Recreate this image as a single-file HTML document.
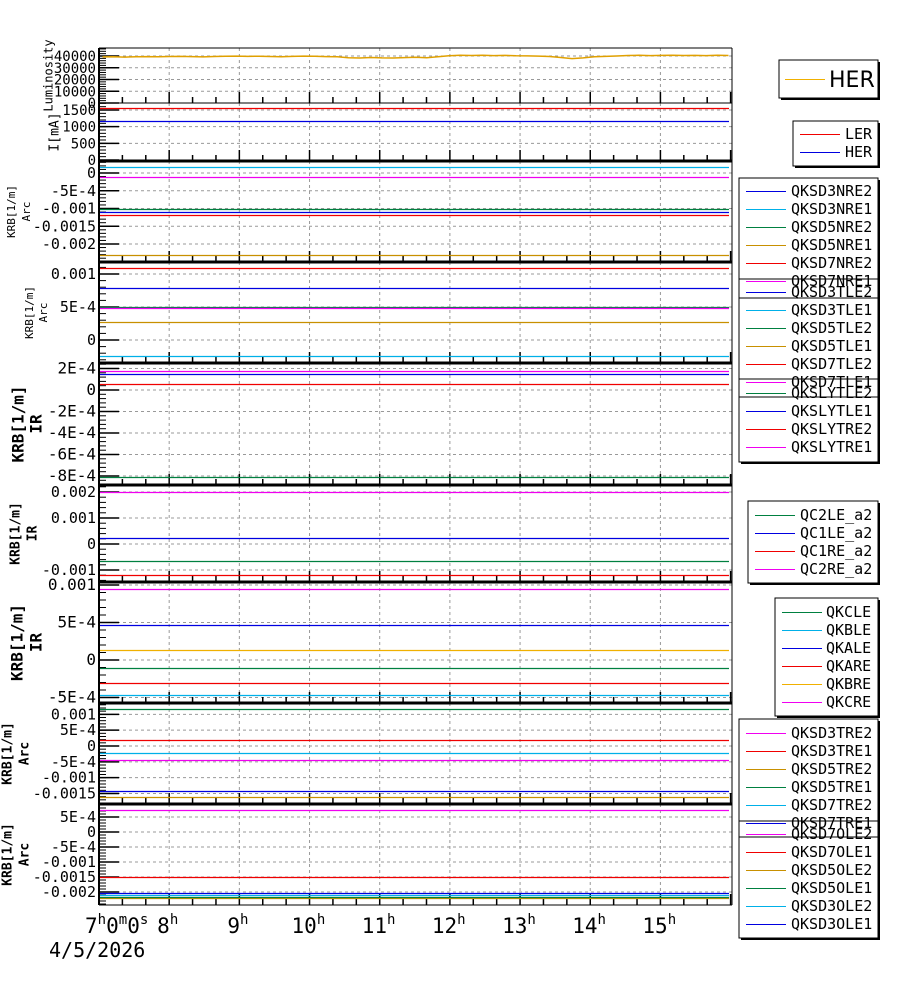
<!DOCTYPE html>
<html><head><meta charset="utf-8"><style>
body{margin:0;background:#fff;width:900px;height:984px;overflow:hidden}
svg{display:block;font-family:"DejaVu Sans Mono","Liberation Mono",monospace}
</style></head><body>
<svg id="c" width="900" height="984"></svg>
<script>
const hours=[8,9,10,11,12,13,14,15];
const lumiValues=[39200,39400,39100,39300,39500,39400,39600,39700,39500,39200,39600,39800,39900,39700,39800,39600,39300,39700,39900,39800,39500,39300,38500,38300,38700,38400,38300,38600,38900,38500,39400,40200,40600,40400,40700,40300,40500,40200,40100,39900,39600,38700,37800,38400,39300,39700,40000,40400,40600,40300,40500,40700,40400,40500,40300,40600,40400];
const ringNames=['LER','HER'];const ringValues=[1560,1180];
const p3Names=['QKSD3NRE2','QKSD3NRE1','QKSD5NRE2','QKSD5NRE1','QKSD7NRE2','QKSD7NRE1'];
const p3Values=[-0.00111,0.00017,-0.001,-0.00231,-0.00118,-0.00011];
const p4Names=['QKSD3TLE2','QKSD3TLE1','QKSD5TLE2','QKSD5TLE1','QKSD7TLE2','QKSD7TLE1'];
const p4Values=[0.00079,-0.00024,0.0005,0.00027,0.00109,0.00049];
const p5Names=['QKSLYTLE2','QKSLYTLE1','QKSLYTRE2','QKSLYTRE1'];
const p5Values=[-0.00081,0.00015,0.00006,0.00018];
const p6Names=['QC2LE_a2','QC1LE_a2','QC1RE_a2','QC2RE_a2'];
const p6Values=[-0.00066,0.00025,-0.0012,0.002];
const p7Names=['QKCLE','QKBLE','QKALE','QKARE','QKBRE','QKCRE'];
const p7Values=[-0.00011,-0.00047,0.00047,-0.00031,0.00013,0.00095];
const p8Names=['QKSD3TRE2','QKSD3TRE1','QKSD5TRE2','QKSD5TRE1','QKSD7TRE2','QKSD7TRE1'];
const p8Values=[-0.00043,0.00019,-0.0016,0.00117,-0.00022,-0.00142];
const p9Names=['QKSD7OLE2','QKSD7OLE1','QKSD5OLE2','QKSD5OLE1','QKSD3OLE2','QKSD3OLE1'];
const p9Values=[0.00073,-0.0015,-0.0022,-0.00217,-0.0021,-0.00202];

const B='#0000e0',C='#00b0e8',G='#008040',O='#c89000',R='#f00000',M='#f000f0',Y='#f0b000';
const svg=document.getElementById('c');const NS='http://www.w3.org/2000/svg';
function el(t,a,p){const e=document.createElementNS(NS,t);for(const k in a)e.setAttribute(k,a[k]);(p||svg).appendChild(e);return e;}
const X0=99,X1=732,T0=7,T1=16.02;
function xs(h){return X0+(h-T0)/(T1-T0)*(X1-X0);}
const panels=[
{top:48,bot:103,v1:0,y1:103,v2:40000,y2:56,ticks:[0,10000,20000,30000,40000],labels:['0','10000','20000','30000','40000'],fs:14,title:['Luminosity'],tx:[49],tfs:12,bold:false},
{top:103,bot:161,v1:0,y1:160,v2:1500,y2:110,ticks:[0,500,1000,1500],labels:['0','500','1000','1500'],fs:14,title:['I[mA]'],tx:[55],tfs:13,bold:false,names:ringNames,vals:ringValues,cols:[R,B]},
{top:161,bot:262,v1:0,y1:173,v2:-0.002,y2:244,ticks:[0,-5e-4,-0.001,-0.0015,-0.002],labels:['0','-5E-4','-0.001','-0.0015','-0.002'],fs:15,title:['KRB[1/m]','Arc'],tx:[12,27],tfs:11,bold:false,names:p3Names,vals:p3Values,cols:[B,C,G,O,R,M]},
{top:262,bot:363,v1:0,y1:340,v2:0.001,y2:274,ticks:[0,5e-4,0.001],labels:['0','5E-4','0.001'],fs:15,title:['KRB[1/m]','Arc'],tx:[30,44],tfs:11,bold:false,names:p4Names,vals:p4Values,cols:[B,C,G,O,R,M]},
{top:363,bot:485,v1:0,y1:390,v2:-8e-4,y2:476,ticks:[2e-4,0,-2e-4,-4e-4,-6e-4,-8e-4],labels:['2E-4','0','-2E-4','-4E-4','-6E-4','-8E-4'],fs:16,title:['KRB[1/m]','IR'],tx:[19,37],tfs:16,bold:true,names:p5Names,vals:p5Values,cols:[G,B,R,M]},
{top:485,bot:582,v1:0,y1:544,v2:0.002,y2:492,ticks:[0.002,0.001,0,-0.001],labels:['0.002','0.001','0','-0.001'],fs:15,title:['KRB[1/m]','IR'],tx:[16,33],tfs:13,bold:true,names:p6Names,vals:p6Values,cols:[G,B,R,M]},
{top:582,bot:703,v1:0,y1:660,v2:0.001,y2:585,ticks:[0.001,5e-4,0,-5e-4],labels:['0.001','5E-4','0','-5E-4'],fs:16,title:['KRB[1/m]','IR'],tx:[18,37],tfs:16,bold:true,names:p7Names,vals:p7Values,cols:[G,C,B,R,Y,M]},
{top:703,bot:804,v1:0,y1:746,v2:-0.0015,y2:793.5,ticks:[0.001,5e-4,0,-5e-4,-0.001,-0.0015],labels:['0.001','5E-4','0','-5E-4','-0.001','-0.0015'],fs:15,title:['KRB[1/m]','Arc'],tx:[8,25],tfs:13,bold:true,names:p8Names,vals:p8Values,cols:[M,R,O,G,C,B]},
{top:804,bot:905,v1:0,y1:832,v2:-0.002,y2:892,ticks:[5e-4,0,-5e-4,-0.001,-0.0015,-0.002],labels:['5E-4','0','-5E-4','-0.001','-0.0015','-0.002'],fs:15,title:['KRB[1/m]','Arc'],tx:[8,25],tfs:13,bold:true,names:p9Names,vals:p9Values,cols:[M,R,O,G,C,B]}
];
panels.forEach((p,i)=>{
  const ys=v=>p.y1+(v-p.v1)*(p.y2-p.y1)/(p.v2-p.v1);
  const g=el('g',{});
  
  
  const cid='clip'+i;const cp=el('clipPath',{id:cid},g);el('rect',{x:X0,y:p.top,width:X1-X0,height:p.bot-p.top},cp);
  hours.forEach(h=>{el('line',{x1:xs(h),x2:xs(h),y1:p.top,y2:p.bot,stroke:'#999','stroke-dasharray':'3,3','stroke-width':1},g);});
  p.ticks.forEach((t,j)=>{const y=ys(t);
    el('line',{x1:X0,x2:X1,y1:y,y2:y,stroke:'#999','stroke-dasharray':'3,3','stroke-width':1},g);
    el('line',{x1:X0,x2:X0+20,y1:y,y2:y,stroke:'#000','stroke-width':1.5},g);
    const tx=el('text',{x:96,y:y+5,'text-anchor':'end','font-size':p.fs,fill:'#000'},g);tx.textContent=p.labels[j];
    
    
  });
  const st=Math.abs(p.ticks[1]-p.ticks[0])/5;
  for(let k=-200;k<=200;k++){const y=ys(k*st);if(y>p.top&&y<p.bot)el('line',{x1:X0,x2:X0+7,y1:y,y2:y,stroke:'#000','stroke-width':1},g);}
  for(let m=0;m<=27;m++){const h=T0+m/3;if(h>T1)break;const x=xs(h);const maj=m%3==0;
    el('line',{x1:x,x2:x,y1:p.bot,y2:p.bot-(maj?11:6),stroke:'#000','stroke-width':1.5},g);}
  if(i==0){let d='';const n=lumiValues.length;lumiValues.forEach((v,k)=>{const x=xs(T0+0.05+k*(T1-T0-0.1)/(n-1));d+=(k?'L':'M')+x.toFixed(1)+','+ys(v).toFixed(1);});
    const pl=el('path',{d:d,fill:'none',stroke:'#e0a000','stroke-width':1.5,'clip-path':'url(#'+cid+')'},g);
    
    
  } else {
    p.vals.forEach((v,k)=>{const y=Math.round(ys(v))+0.5;const ln=el('line',{x1:X0,x2:X1-3,y1:y,y2:y,stroke:p.cols[k],'stroke-width':1.2,'clip-path':'url(#'+cid+')'},g);
      
      });
  }
  el('line',{x1:X0,x2:X0,y1:p.top,y2:p.bot,stroke:'#000','stroke-width':2},g);
  el('line',{x1:X1,x2:X1,y1:p.top,y2:p.bot,stroke:'#000','stroke-width':1},g);
  if(i>0)el('line',{x1:X0,x2:X1,y1:p.top,y2:p.top,stroke:'#000','stroke-width':i==1?1:3},g);
  const cy=(p.top+p.bot)/2;
  p.title.forEach((t,j)=>{const tt=el('text',{x:p.tx[j],y:cy,'text-anchor':'middle','font-size':p.tfs,'font-weight':p.bold?'bold':'normal',transform:'rotate(-90 '+p.tx[j]+' '+cy+')','dominant-baseline':'middle'},g);tt.textContent=t;
    
    });
});
el('line',{x1:X0,x2:X1,y1:48,y2:48,stroke:'#000','stroke-width':1});
el('line',{x1:X0,x2:X1,y1:905,y2:905,stroke:'#000','stroke-width':1});
const xl=el('text',{x:85,y:933,'font-size':21});xl.innerHTML='7<tspan dy="-9" font-size="14">h</tspan><tspan dy="9">0</tspan><tspan dy="-9" font-size="14">m</tspan><tspan dy="9">0</tspan><tspan dy="-9" font-size="14">s</tspan>';


hours.forEach(h=>{const t=el('text',{x:xs(h)-12-(h>=10?6:0),y:933,'font-size':21});t.innerHTML=h+'<tspan dy="-9" font-size="14">h</tspan>';
  
  });
const dt=el('text',{x:49,y:957,'font-size':20});dt.textContent='4/5/2026';


const legends=[
{x:779,y:60,w:99,h:38,lx:785,tx:829,fs:22,rows:[['HER',Y]],y0:79,sans:true},
{x:793,y:121,w:85,h:45,lx:800,tx:845,fs:15,rows:[['LER',R],['HER',B]],y0:134},
{x:739,y:178,w:139,h:120,lx:746,tx:791,fs:15,rows:p3Names.map((n,k)=>[n,panels[2].cols[k]]),y0:191},
{x:739,y:279,w:139,h:118,lx:746,tx:791,fs:15,rows:p4Names.map((n,k)=>[n,panels[3].cols[k]]),y0:292},
{x:739,y:379,w:139,h:83,lx:746,tx:791,fs:15,rows:p5Names.map((n,k)=>[n,panels[4].cols[k]]),y0:393},
{x:748,y:501,w:130,h:82,lx:755,tx:800,fs:15,rows:p6Names.map((n,k)=>[n,panels[5].cols[k]]),y0:515},
{x:775,y:598,w:103,h:118,lx:782,tx:826,fs:15,rows:p7Names.map((n,k)=>[n,panels[6].cols[k]]),y0:612},
{x:739,y:719,w:139,h:118,lx:746,tx:791,fs:15,rows:p8Names.map((n,k)=>[n,panels[7].cols[k]]),y0:733},
{x:739,y:821,w:139,h:117,lx:746,tx:791,fs:15,rows:p9Names.map((n,k)=>[n,panels[8].cols[k]]),y0:834}
];
const lg=el('g',{});


legends.forEach(L=>{el('rect',{x:L.x+2,y:L.y+2,width:L.w,height:L.h,fill:'#000'},lg);});
legends.forEach(L=>{el('rect',{x:L.x,y:L.y,width:L.w,height:L.h,fill:'#fff'},lg);});
legends.forEach((L,i)=>{const g=el('g',{},lg);
  
  
  el('rect',{x:L.x,y:L.y,width:L.w,height:L.h,fill:'none',stroke:'#000','stroke-width':1},g);
  L.rows.forEach((r,k)=>{const y=L.y0+k*18;
    el('line',{x1:L.lx,x2:L.lx+40,y1:y+0.5,y2:y+0.5,stroke:r[1],'stroke-width':1},g);
    const t=el('text',{x:L.tx,y:y+5+(L.sans?3:0),'font-size':L.fs},g);if(L.sans)t.setAttribute('font-family','"DejaVu Sans","Liberation Sans",sans-serif');t.textContent=r[0];
    
    });
});
</script>
</body></html>
